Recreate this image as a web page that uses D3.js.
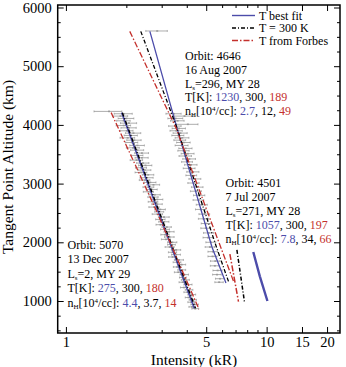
<!DOCTYPE html>
<html><head><meta charset="utf-8">
<script src="https://cdn.jsdelivr.net/npm/d3@7"></script>
<style>body{margin:0;background:#fff}svg{display:block}text{font-family:"Liberation Serif","Times New Roman",serif}</style>
</head><body>
<svg id="c" width="346" height="367"></svg>
<script>
// ---------- data ----------
const xTicks = [1, 5, 10, 15, 20];
const xMinorTicks = [2, 3, 4, 6, 7, 8, 9];
const yTicks = [1000, 2000, 3000, 4000, 5000, 6000];
const yMinorTicks = [500, 750, 1250, 1500, 1750, 2250, 2500, 2750, 3250, 3500, 3750, 4250, 4500, 4750, 5250, 5500, 5750];

// orbit 5070 observations: altitude (km), intensity (kR), error (kR)
const obs5070Alt = [4230,4190,4150,4110,4070,4030,3990,3950,3900,3860,3820,3780,3740,3700,3650,3610,3570,3520,3480,3440,3400,3350,3310,3270,3230,3190,3150,3100,3060,3020,2980,2940,2900,2860,2810,2770,2730,2690,2650,2600,2560,2520,2480,2430,2390,2350,2300,2260,2220,2180,2130,2090,2050,2000,1960,1920,1870,1830,1790,1750,1700,1660,1620,1580,1530,1490,1450,1400,1360,1320,1280,1230,1190,1150,1110,1060,1020,980,940,900,870];
const obs5070I   = [1.64,1.94,1.87,2.00,1.94,2.06,1.94,2.06,2.01,2.17,2.11,2.03,2.19,2.13,2.27,2.16,2.27,2.39,2.27,2.39,2.25,2.42,2.49,2.37,2.47,2.37,2.57,2.53,2.47,2.63,2.73,2.58,2.68,2.58,2.77,2.72,2.85,2.72,2.85,2.75,2.95,2.92,2.86,3.08,2.96,3.08,2.96,3.18,3.12,3.27,3.12,3.28,3.15,3.39,3.36,3.29,3.54,3.40,3.54,3.40,3.66,3.58,3.77,3.58,3.78,3.63,3.89,3.83,3.94,3.82,4.06,3.87,4.11,4.03,4.24,4.08,4.29,4.21,4.38,4.25,4.41];
const obs5070Err = [0.26,0.20,0.16,0.18,0.15,0.19,0.16,0.18,0.15,0.19,0.16,0.17,0.18,0.15,0.19,0.16,0.17,0.19,0.15,0.18,0.16,0.17,0.19,0.15,0.18,0.16,0.17,0.19,0.15,0.18,0.20,0.16,0.17,0.15,0.18,0.16,0.19,0.15,0.17,0.16,0.18,0.15,0.17,0.19,0.16,0.18,0.15,0.17,0.16,0.19,0.15,0.18,0.16,0.18,0.15,0.17,0.19,0.16,0.18,0.15,0.19,0.16,0.18,0.15,0.17,0.16,0.19,0.15,0.18,0.16,0.19,0.15,0.18,0.16,0.19,0.15,0.18,0.16,0.19,0.15,0.17];

// orbit 4646 / 4501 observations
const obs4646Alt = [5600,4190,4150,4110,4070,4010,3980,3940,3900,3860,3820,3780,3740,3700,3650,3600,3560,3510,3470,3420,3370,3320,3260,3200,3140,3080,3010,2940,2870,2800,2720,2640,2560,2480,2400,2320,2240,2160,2080,2000,1920,1840,1760,1680,1600,1520,1450,1380,1320];
const obs4646I   = [2.85,3.45,3.90,3.52,3.60,4.05,3.50,3.66,3.55,3.72,3.62,3.80,3.70,3.86,3.78,3.95,3.86,4.05,3.94,4.12,4.02,4.20,4.12,4.30,4.22,4.40,4.33,4.52,4.45,4.62,4.58,4.76,4.70,4.90,4.85,5.02,4.98,5.15,5.10,5.28,5.22,5.40,5.38,5.55,5.52,5.70,5.66,5.86,5.80];
const obs4646Err = [0.35,0.30,0.45,0.30,0.28,0.50,0.25,0.28,0.25,0.30,0.25,0.30,0.25,0.30,0.28,0.30,0.25,0.30,0.28,0.30,0.25,0.30,0.28,0.30,0.26,0.30,0.28,0.30,0.28,0.30,0.28,0.30,0.28,0.30,0.28,0.30,0.28,0.30,0.28,0.30,0.28,0.30,0.28,0.30,0.28,0.30,0.28,0.30,0.28];

// model profiles: [altitude km, intensity kR]
const fit5070    = [[4209,1.895],[2542,2.87],[876,4.36]];
const t300_5070  = [[4209,1.91],[2542,2.90],[876,4.42]];
const forbes5070 = [[4209,1.68],[2542,2.82],[860,4.60]];
const fit4646    = [[5593,2.62],[3954,3.57],[1920,5.34],[1305,6.27]];
const t300_4646  = [[5593,2.36],[3954,3.57],[1920,5.62],[1305,6.50]];
const forbes4646 = [[5593,2.08],[3954,3.53],[1920,5.90],[1330,6.85]];
const fit4501    = [[1835,8.58],[1420,9.25],[1000,10.09]];
const t300_4501  = [[1870,7.11],[990,7.75]];
const forbes4501 = [[1800,6.56],[990,7.24]];

const legendLabels = ["T best fit", "T = 300 K", "T from Forbes"];

// ---------- drawing ----------
const BLUE = "#4c4caa", RED = "#c4302c", BLACK = "#000";
const svg = d3.select("#c");
const L = 57.7, R = 340, T = 5, B = 333;
const x = d3.scaleLog().domain([0.91, 23.2]).range([L, R]);
const y = d3.scaleLinear().domain([455, 6000]).range([B, 7.5]);

svg.append("clipPath").attr("id","clip").append("rect").attr("x",L).attr("y",T).attr("width",R-L).attr("height",B-T);
const plot = svg.append("g").attr("clip-path","url(#clip)");

function drawObs(alts, vals, errs){
  const g = plot.append("g");
  alts.forEach((a,i)=>{
    const yy = y(a), x0 = x(vals[i]-errs[i]), x1 = x(vals[i]+errs[i]), xc = x(vals[i]);
    g.append("line").attr("x1",x0).attr("x2",x1).attr("y1",yy).attr("y2",yy).attr("stroke","#8a8a8a").attr("stroke-width",0.7);
    g.append("line").attr("x1",x0).attr("x2",x0).attr("y1",yy-1).attr("y2",yy+1).attr("stroke","#8a8a8a").attr("stroke-width",0.6);
    g.append("line").attr("x1",x1).attr("x2",x1).attr("y1",yy-1).attr("y2",yy+1).attr("stroke","#8a8a8a").attr("stroke-width",0.6);
    g.append("rect").attr("x",xc-1).attr("y",yy-0.8).attr("width",2).attr("height",1.6).attr("fill","#9a9a9a");
  });
}
drawObs(obs5070Alt, obs5070I, obs5070Err);
drawObs(obs4646Alt, obs4646I, obs4646Err);

const line = d3.line().x(d=>x(d[1])).y(d=>y(d[0]));
function drawLine(data, color, dash, w){
  plot.append("path").attr("d", line(data)).attr("fill","none").attr("stroke",color)
    .attr("stroke-width", w).attr("stroke-dasharray", dash);
}
const DASH_BLACK = "4,2,1,2", DASH_RED = "6,2,1.5,2";
drawLine(fit5070, BLUE, null, 1.6);
drawLine(t300_5070, BLACK, DASH_BLACK, 1.4);
drawLine(forbes5070, RED, DASH_RED, 1.3);
drawLine(fit4646, BLUE, null, 1.3);
drawLine(t300_4646, BLACK, DASH_BLACK, 1.3);
drawLine(forbes4646, RED, DASH_RED, 1.3);
drawLine(fit4501, BLUE, null, 2.4);
drawLine(t300_4501, BLACK, DASH_BLACK, 1.5);
drawLine(forbes4501, RED, DASH_RED, 1.5);

function styleAxis(g){ g.select(".domain").remove(); g.selectAll("line").attr("stroke","#000").attr("stroke-width",1); g.selectAll("text").attr("fill","#000"); }
svg.append("g").attr("transform",`translate(${L},0)`)
  .call(d3.axisLeft(y).tickValues(yTicks).tickSizeInner(-6).tickSizeOuter(0).tickPadding(6).tickFormat(d3.format("d")))
  .call(styleAxis).call(g=>g.selectAll("text").attr("font-size",14.5));
svg.append("g").attr("transform",`translate(${L},0)`)
  .call(d3.axisLeft(y).tickValues(yMinorTicks).tickSizeInner(-3).tickSizeOuter(0).tickFormat(""))
  .call(styleAxis);
svg.append("g").attr("transform",`translate(${R},0)`)
  .call(d3.axisRight(y).tickValues(yTicks).tickSizeInner(-6).tickSizeOuter(0).tickFormat(""))
  .call(styleAxis);
svg.append("g").attr("transform",`translate(${R},0)`)
  .call(d3.axisRight(y).tickValues(yMinorTicks).tickSizeInner(-3).tickSizeOuter(0).tickFormat(""))
  .call(styleAxis);
svg.append("g").attr("transform",`translate(0,${B})`)
  .call(d3.axisBottom(x).tickValues(xTicks).tickSizeInner(-6).tickSizeOuter(0).tickPadding(4).tickFormat(d3.format("d")))
  .call(styleAxis).call(g=>g.selectAll("text").attr("font-size",14.5));
svg.append("g").attr("transform",`translate(0,${B})`)
  .call(d3.axisBottom(x).tickValues(xMinorTicks).tickSizeInner(-3).tickSizeOuter(0).tickFormat(""))
  .call(styleAxis);
svg.append("g").attr("transform",`translate(0,${T})`)
  .call(d3.axisTop(x).tickValues(xTicks).tickSizeInner(-6).tickSizeOuter(0).tickFormat(""))
  .call(styleAxis);
svg.append("g").attr("transform",`translate(0,${T})`)
  .call(d3.axisTop(x).tickValues(xMinorTicks).tickSizeInner(-3).tickSizeOuter(0).tickFormat(""))
  .call(styleAxis);

svg.append("rect").attr("x",L).attr("y",T).attr("width",R-L).attr("height",B-T)
  .attr("fill","none").attr("stroke","#000").attr("stroke-width",1.5);

svg.append("text").attr("transform","translate(13,167) rotate(-90)").attr("text-anchor","middle")
  .attr("font-size",15.5).text("Tangent Point Altitude (km)");
svg.append("text").attr("x",194).attr("y",365).attr("text-anchor","middle")
  .attr("font-size",15.5).text("Intensity (kR)");

const legColors = [BLUE, BLACK, RED], legDash = [null, DASH_BLACK, DASH_RED], legY = [15.5, 28, 40.5];
legendLabels.forEach((t,i)=>{
  svg.append("line").attr("x1",232).attr("x2",255).attr("y1",legY[i]).attr("y2",legY[i])
    .attr("stroke",legColors[i]).attr("stroke-width",1.4).attr("stroke-dasharray",legDash[i]);
  svg.append("text").attr("x",259).attr("y",legY[i]+4.3).attr("font-size",12).text(t);
});

function block(x0, ys, orbit, date, ls, my, temps, dens){
  const fs = 12;
  const t = (yy)=>svg.append("text").attr("x",x0).attr("y",yy).attr("font-size",fs);
  t(ys[0]).text("Orbit: " + orbit);
  t(ys[1]).text(date);
  const l = t(ys[2]);
  l.append("tspan").text("L");
  l.append("tspan").attr("font-size",7).attr("dy",2).text("s");
  l.append("tspan").attr("dy",-2).text("=" + ls + ", MY " + my);
  const k = t(ys[3]);
  k.append("tspan").text("T[K]: ");
  k.append("tspan").attr("fill",BLUE).text(temps[0]);
  k.append("tspan").text(", " + temps[1] + ", ");
  k.append("tspan").attr("fill",RED).text(temps[2]);
  const n = t(ys[4]);
  n.append("tspan").text("n");
  n.append("tspan").attr("font-size",7).attr("dy",2).text("H");
  n.append("tspan").attr("dy",-2).text("[10");
  n.append("tspan").attr("font-size",7).attr("dy",-4).text("4");
  n.append("tspan").attr("dy",4).text("/cc]: ");
  n.append("tspan").attr("fill",BLUE).text(dens[0]);
  n.append("tspan").text(", " + dens[1] + ", ");
  n.append("tspan").attr("fill",RED).text(dens[2]);
}
block(185, [60, 74, 87.5, 101, 114.5], "4646", "16 Aug 2007", "296", "28", ["1230","300","189"], ["2.7","12","49"]);
block(225.5, [187, 201, 215, 229, 243], "4501", "7 Jul 2007", "271", "28", ["1057","300","197"], ["7.8","34","66"]);
block(67.5, [248.5, 263, 277.5, 292, 306.5], "5070", "13 Dec 2007", "2", "29", ["275","300","180"], ["4.4","3.7","14"]);
</script>
</body></html>
